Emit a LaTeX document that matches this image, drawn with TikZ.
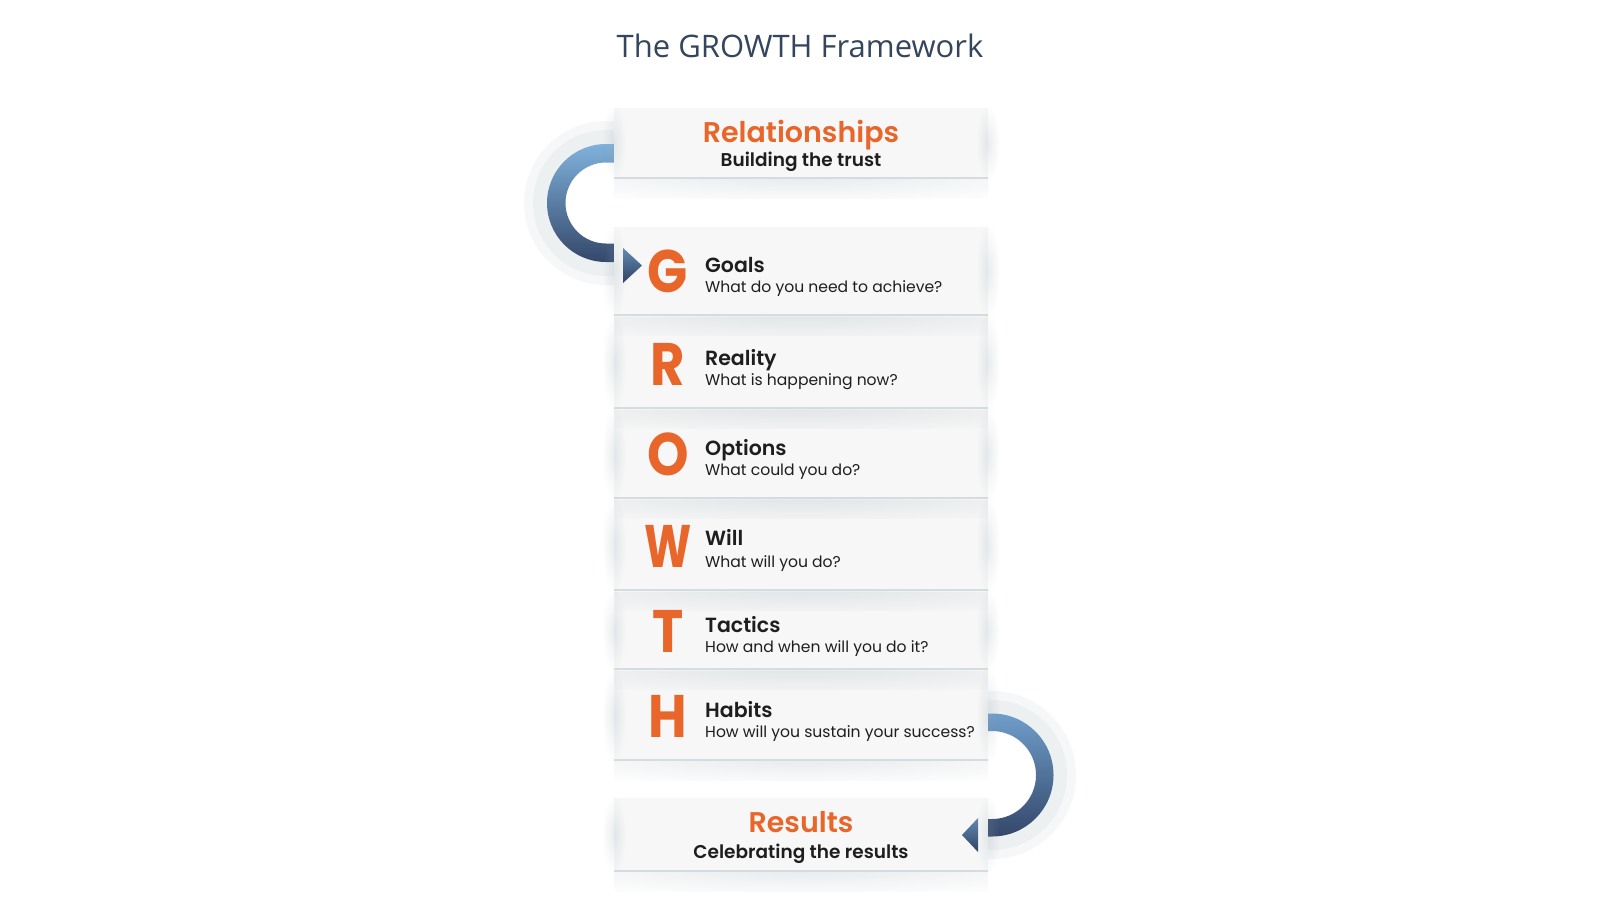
\documentclass[tikz,border=0pt]{standalone}
\usepackage{fontspec}
\setmainfont{Poppins}
\newfontfamily\semifont{Poppins SemiBold}
\newfontfamily\titlefont{Open Sans}
\usepackage{tikz}
\usetikzlibrary{positioning, calc, fadings}
\usepackage{xcolor}
\definecolor{titlec}{HTML}{34455E}
\definecolor{orangec}{HTML}{E8662A}
\definecolor{textc}{HTML}{1E1E1E}
\definecolor{boxfill}{HTML}{F7F7F7}
\definecolor{linec}{HTML}{D5DBDE}
\definecolor{shadowc}{HTML}{8FA3AE}
\definecolor{haloc}{HTML}{EDF0F1}
\definecolor{halofade}{HTML}{F6F7F8}
\definecolor{arclight}{HTML}{80B2DC}
\definecolor{arcmid}{HTML}{6F9ECA}
\definecolor{arcdark}{HTML}{34476A}
\definecolor{pointerlight}{HTML}{6388B2}
\definecolor{pointerdark}{HTML}{2F4464}
\tikzfading[name=shadowfade, inner color=transparent!78, outer color=transparent!100]
\tikzfading[name=sidefade, inner color=transparent!80, outer color=transparent!100]
\tikzstyle{framebox} = [
    rectangle,
    fill=boxfill,
    minimum width=374pt,
    inner sep=0pt,
    outer sep=0pt
]
\tikzstyle{letter} = [
    text=orangec,
    font=\fontsize{60}{60}\selectfont\bfseries,
    xscale=0.88,
    inner sep=0pt,
    anchor=base
]
\tikzstyle{heading} = [
    text=textc,
    font=\fontsize{20.5}{20.5}\selectfont\semifont,
    inner sep=0pt,
    anchor=base west
]
\tikzstyle{question} = [
    text=textc,
    font=\fontsize{15.6}{15.6}\selectfont,
    inner sep=0pt,
    anchor=base west
]
\tikzstyle{banner} = [
    text=orangec,
    font=\fontsize{28.5}{28.5}\selectfont\semifont,
    inner sep=0pt,
    anchor=base
]
\tikzstyle{bannersub} = [
    text=textc,
    font=\fontsize{18.5}{18.5}\selectfont\semifont,
    inner sep=0pt,
    anchor=base
]
\tikzstyle{edgeline} = [draw=linec, line width=1.2pt]
\tikzstyle{haloouter} = [draw=halofade, line width=24pt]
\tikzstyle{haloinner} = [draw=haloc, line width=14pt]
\tikzstyle{pointer} = [top color=pointerlight, bottom color=pointerdark]

\begin{document}
\begin{tikzpicture}[x=1pt, y=-1pt]
            \useasboundingbox (0,0) rectangle (1600,900);
            \node[font=\titlefont\fontsize{31}{31}\selectfont, text=titlec, anchor=base, inner sep=0pt] (title) at (800,57) {The GROWTH Framework};

            % halos and bands
            \draw[haloouter] (616,133) -- (606,133) arc[start angle=270, end angle=90, radius=70] -- (616,273);
            \draw[haloinner] (616,137) -- (606,137) arc[start angle=270, end angle=90, radius=66] -- (616,269);
            \draw[haloouter] (984,703) -- (992,703) arc[start angle=270, end angle=450, radius=72] -- (984,847);
            \draw[haloinner] (984,707) -- (992,707) arc[start angle=270, end angle=450, radius=68] -- (984,843);
            \shade[top color=arclight, bottom color=arcdark] (616,144) -- (606,144) arc[start angle=270, end angle=90, radius=59] -- (616,262) -- (616,243.5) -- (606,243.5) arc[start angle=90, end angle=270, radius=40.5] -- (616,162.5) -- cycle;
            \shade[top color=arcmid, middle color=arclight, bottom color=arcdark] (984,713.5) -- (992,713.5) arc[start angle=270, end angle=450, radius=61.5] -- (984,836.5) -- (984,819) -- (992,819) arc[start angle=450, end angle=270, radius=44] -- (984,731) -- cycle;

            % boxes
            \node[framebox, minimum height=70pt] (rel) at (801,143) {};
            \node[framebox, minimum height=88pt, below=49pt of rel] (goals) {};
            \node[framebox, minimum height=91pt, below=2pt of goals] (reality) {};
            \node[framebox, minimum height=88pt, below=2pt of reality] (options) {};
            \node[framebox, minimum height=90pt, below=2pt of options] (will) {};
            \node[framebox, minimum height=77pt, below=2pt of will] (tactics) {};
            \node[framebox, minimum height=89pt, below=2pt of tactics] (habits) {};
            \node[framebox, minimum height=73pt, below=38pt of habits] (results) {};

            \foreach \b in {rel,goals,reality,options,will,tactics,habits,results} {
                \fill[shadowc, path fading=sidefade] ($(\b.north west)!-0.05!(\b.south west)+(-12,0)$) rectangle ($(\b.south west)!-0.05!(\b.north west)+(12,0)$);
                \fill[shadowc, path fading=sidefade] ($(\b.north east)!-0.05!(\b.south east)+(-12,0)$) rectangle ($(\b.south east)!-0.05!(\b.north east)+(12,0)$);
                \begin{scope}
                    \clip (\b.south west) rectangle ([yshift=-20pt]\b.south east);
                    \fill[shadowc, path fading=shadowfade] ([yshift=2pt]\b.south) ellipse[x radius=330, y radius=30];
                \end{scope}
                \draw[edgeline] (\b.south west) -- (\b.south east);
            }

            % texts
            \node[banner] (reltitle) at ([yshift=1pt]rel.center) {Relationships};
            \node[bannersub] (relsub) at ([yshift=-23pt]rel.center) {Building the trust};

            \node[letter] (gletter) at ([xshift=54pt, yshift=-21.5pt]goals.west) {G};
            \node[heading] (ghead) at ([xshift=91pt, yshift=-1pt]goals.west) {Goals};
            \node[question] (gtext) at ([xshift=91pt, yshift=-21.5pt]goals.west) {What do you need to achieve?};

            \node[letter] (rletter) at ([xshift=54pt, yshift=-22.5pt]reality.west) {R};
            \node[heading] (rhead) at ([xshift=91pt, yshift=-2.5pt]reality.west) {Reality};
            \node[question] (rtext) at ([xshift=91pt, yshift=-22.5pt]reality.west) {What is happening now?};

            \node[letter] (oletter) at ([xshift=54pt, yshift=-21pt]options.west) {O};
            \node[heading] (ohead) at ([xshift=91pt, yshift=-1pt]options.west) {Options};
            \node[question] (otext) at ([xshift=91pt, yshift=-21pt]options.west) {What could you do?};

            \node[letter, xscale=0.85] (wletter) at ([xshift=54pt, yshift=-22pt]will.west) {W};
            \node[heading] (whead) at ([xshift=91pt, yshift=-0.5pt]will.west) {Will};
            \node[question] (wtext) at ([xshift=91pt, yshift=-22pt]will.west) {What will you do?};

            \node[letter] (tletter) at ([xshift=54pt, yshift=-21.5pt]tactics.west) {T};
            \node[heading] (thead) at ([xshift=91pt, yshift=-1.5pt]tactics.west) {Tactics};
            \node[question] (ttext) at ([xshift=91pt, yshift=-21.5pt]tactics.west) {How and when will you do it?};

            \node[letter] (hletter) at ([xshift=54pt, yshift=-21.5pt]habits.west) {H};
            \node[heading] (hhead) at ([xshift=91pt, yshift=-1.5pt]habits.west) {Habits};
            \node[question] (htext) at ([xshift=91pt, yshift=-21.5pt]habits.west) {How will you sustain your success?};

            \node[banner] (restitle) at ([yshift=2.5pt]results.center) {Results};
            \node[bannersub] (ressub) at ([yshift=-23.5pt]results.center) {Celebrating the results};

            % pointers
            \shade[pointer] (623,248) -- (623,283) -- (642,265.5) -- cycle;
            \shade[pointer] (978,818) -- (978,852) -- (962,835) -- cycle;
        \end{tikzpicture}
\end{document}
